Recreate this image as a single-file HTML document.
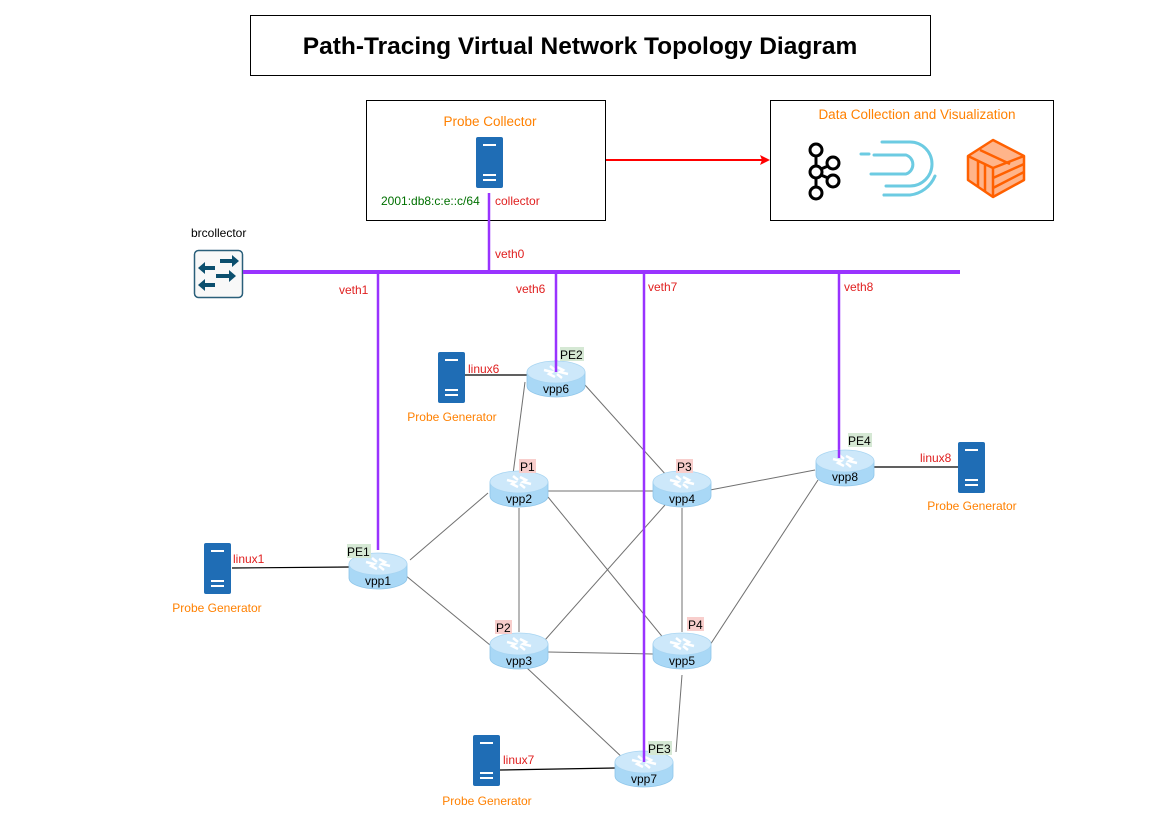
<!DOCTYPE html>
<html><head><meta charset="utf-8"><style>
body{margin:0;background:#fff;}
svg text{font-family:"Liberation Sans",Arial,sans-serif;}
</style></head><body>
<svg width="1169" height="827" viewBox="0 0 1169 827" xmlns="http://www.w3.org/2000/svg">
<defs>
<g id="router">
<path d="M-29,-6 L-29,8 A29,11 0 0 0 29,8 L29,-6 Z" fill="#a9d8f6" stroke="#8fc6ea" stroke-width="0.8"/>
<ellipse cx="0" cy="-6" rx="29" ry="11" fill="#cde8fa" stroke="#a8d5f2" stroke-width="0.8"/>
<path d="M-12,-8 l8,2 l-3,2 l6,3 M12,-4 l-8,-2 l3,-2 l-6,-3 M-6,-12 l5,4 M6,0 l-5,-4" stroke="#fff" stroke-width="2.5" fill="none"/>
</g>
<g id="server">
<rect x="0" y="0" width="27" height="51" rx="2" fill="#1f6db5"/>
<rect x="7" y="7" width="13" height="2" fill="#fff"/>
<rect x="7" y="37" width="13" height="2" fill="#fff"/>
<rect x="7" y="42" width="13" height="2" fill="#fff"/>
</g>
</defs>

<rect x="250.5" y="15.5" width="680" height="60" fill="#fff" stroke="#000"/>
<text x="580" y="54" text-anchor="middle" font-size="24.5" font-weight="bold">Path-Tracing Virtual Network Topology Diagram</text>

<rect x="366.5" y="100.5" width="239" height="120" fill="#fff" stroke="#000"/>
<text x="490" y="126" text-anchor="middle" font-size="13.5" fill="#ff8000">Probe Collector</text>
<use href="#server" x="476" y="137"/>
<text x="381" y="205" font-size="12" fill="#007000">2001:db8:c:e::c/64</text>
<text x="495" y="205" font-size="12" fill="#e02020">collector</text>

<line x1="606" y1="160" x2="762" y2="160" stroke="#ff0000" stroke-width="2"/>
<path d="M770,160 L760,155 L762,160 L760,165 Z" fill="#ff0000"/>

<rect x="770.5" y="100.5" width="283" height="120" fill="#fff" stroke="#000"/>
<text x="917" y="119" text-anchor="middle" font-size="13.5" fill="#ff8000">Data Collection and Visualization</text>
<g fill="none" stroke="#000" stroke-width="3">
<circle cx="816" cy="150" r="6"/><circle cx="833" cy="163" r="6"/><circle cx="816" cy="172" r="6"/>
<circle cx="833" cy="181" r="6"/><circle cx="816" cy="193" r="6"/>
<line x1="816" y1="156" x2="816" y2="166"/><line x1="816" y1="178" x2="816" y2="187"/>
<line x1="821" y1="169" x2="828" y2="166"/><line x1="821" y1="175" x2="828" y2="178"/>
</g>
<g fill="none" stroke="#6ccbe2" stroke-width="3" stroke-linecap="round">
<path d="M882,142 L910,142 A22,22 0 0 1 910,186 L886,186"/>
<path d="M874,155 L906,155 A10,10 0 0 1 906,174 L871,174"/>
<line x1="861" y1="154" x2="869" y2="154"/><line x1="884" y1="195" x2="893" y2="195"/>
<path d="M884,195 L910,195 A31,31 0 0 0 935,176" />
</g>
<g stroke="#ff6000" stroke-width="2.5" stroke-linejoin="round">
<path d="M968,156 L993,140 L1024,156 L1024,180 L993,197 L968,180 Z" fill="#ffb48a"/>
<path d="M968,156 L993,168 L1024,156 M993,168 L993,197 M978,161 L978,186 M985,165 L985,192 M993,178 L1024,164 M993,188 L1024,172 M980,150 L1010,164" fill="none"/>
</g>

<text x="191" y="237" font-size="12">brcollector</text>
<rect x="194.5" y="250.5" width="48" height="47" rx="4" fill="#f8f8f8" stroke="#2a5f7a" stroke-width="1.5"/>
<g fill="#0c4f6e">
<path d="M220,259 L232,259 L232,255 L239,261 L232,267 L232,263 L220,263 Z"/>
<path d="M215,266 L205,266 L205,262 L198,268 L205,274 L205,270 L215,270 Z"/>
<path d="M216,274 L229,274 L229,270 L236,276 L229,282 L229,278 L216,278 Z"/>
<path d="M215,283 L205,283 L205,279 L198,285 L205,291 L205,287 L215,287 Z"/>
</g>

<g stroke="#707070" stroke-width="1" fill="none">
<line x1="525" y1="382" x2="512" y2="482"/>
<line x1="585" y1="385" x2="676" y2="486"/>
<line x1="548" y1="491" x2="653" y2="491"/>
<line x1="488" y1="493" x2="410" y2="560"/>
<line x1="519" y1="508" x2="519" y2="632"/>
<line x1="548" y1="497" x2="665" y2="640"/>
<line x1="665" y1="505" x2="545" y2="640"/>
<line x1="682" y1="508" x2="682" y2="632"/>
<line x1="710" y1="490" x2="815" y2="470"/>
<line x1="818" y1="480" x2="710" y2="645"/>
<line x1="405" y1="575" x2="490" y2="645"/>
<line x1="548" y1="652" x2="653" y2="654"/>
<line x1="527" y1="668" x2="625" y2="760"/>
<line x1="682" y1="675" x2="676" y2="752"/>
</g>
<g stroke="#000" stroke-width="1.2">
<line x1="461" y1="375" x2="527" y2="375"/>
<line x1="232" y1="568" x2="350" y2="567"/>
<line x1="500" y1="770" x2="615" y2="768"/>
<line x1="873" y1="467" x2="958" y2="467"/>
</g>

<g stroke="#9933ff" fill="none">
<line x1="243" y1="272" x2="960" y2="272" stroke-width="4"/>
<line x1="489" y1="193" x2="489" y2="272" stroke-width="2.5"/>
<line x1="378" y1="272" x2="378" y2="540" stroke-width="2.5"/>
<line x1="556" y1="272" x2="556" y2="372" stroke-width="2.5"/>
<line x1="839" y1="272" x2="839" y2="458" stroke-width="2.5"/>
</g>

<use href="#router" x="556" y="378"/>
<use href="#router" x="519" y="488"/>
<use href="#router" x="682" y="488"/>
<use href="#router" x="845" y="467"/>
<use href="#router" x="378" y="570"/>
<use href="#router" x="519" y="650"/>
<use href="#router" x="682" y="650"/>
<use href="#router" x="644" y="768"/>
<line x1="644" y1="272" x2="644" y2="762" stroke="#9933ff" stroke-width="2.5"/>
<line x1="556" y1="360" x2="556" y2="372" stroke="#9933ff" stroke-width="2.5"/>
<line x1="839" y1="450" x2="839" y2="458" stroke="#9933ff" stroke-width="2.5"/>
<line x1="378" y1="550" x2="378" y2="540" stroke="#9933ff" stroke-width="2.5"/>

<g font-size="12" text-anchor="middle">
<text x="556" y="393">vpp6</text><text x="519" y="503">vpp2</text><text x="682" y="503">vpp4</text>
<text x="845" y="481">vpp8</text><text x="378" y="585">vpp1</text><text x="519" y="665">vpp3</text>
<text x="682" y="665">vpp5</text><text x="644" y="783">vpp7</text>
</g>
<g font-size="12">
<rect x="560" y="347" width="24" height="14" fill="#d5e8d4"/><text x="560" y="359">PE2</text>
<rect x="519" y="459" width="17" height="14" fill="#f8cecc"/><text x="520" y="471">P1</text>
<rect x="676" y="459" width="17" height="14" fill="#f8cecc"/><text x="677" y="471">P3</text>
<rect x="848" y="433" width="24" height="14" fill="#d5e8d4"/><text x="848" y="445">PE4</text>
<rect x="347" y="544" width="24" height="14" fill="#d5e8d4"/><text x="347" y="556">PE1</text>
<rect x="495" y="620" width="17" height="14" fill="#f8cecc"/><text x="496" y="632">P2</text>
<rect x="687" y="617" width="17" height="14" fill="#f8cecc"/><text x="688" y="629">P4</text>
<rect x="648" y="741" width="24" height="14" fill="#d5e8d4"/><text x="648" y="753">PE3</text>
</g>

<use href="#server" x="438" y="352"/>
<use href="#server" x="204" y="543"/>
<use href="#server" x="958" y="442"/>
<use href="#server" x="473" y="735"/>
<g font-size="12" fill="#ff8000" text-anchor="middle">
<text x="452" y="421">Probe Generator</text>
<text x="217" y="612">Probe Generator</text>
<text x="972" y="510">Probe Generator</text>
<text x="487" y="805">Probe Generator</text>
</g>
<g font-size="12" fill="#e02020">
<text x="468" y="373">linux6</text>
<text x="233" y="563">linux1</text>
<text x="920" y="462">linux8</text>
<text x="503" y="764">linux7</text>
<text x="495" y="258">veth0</text>
<text x="339" y="294">veth1</text>
<text x="516" y="293">veth6</text>
<text x="648" y="291">veth7</text>
<text x="844" y="291">veth8</text>
</g>
</svg>
</body></html>
